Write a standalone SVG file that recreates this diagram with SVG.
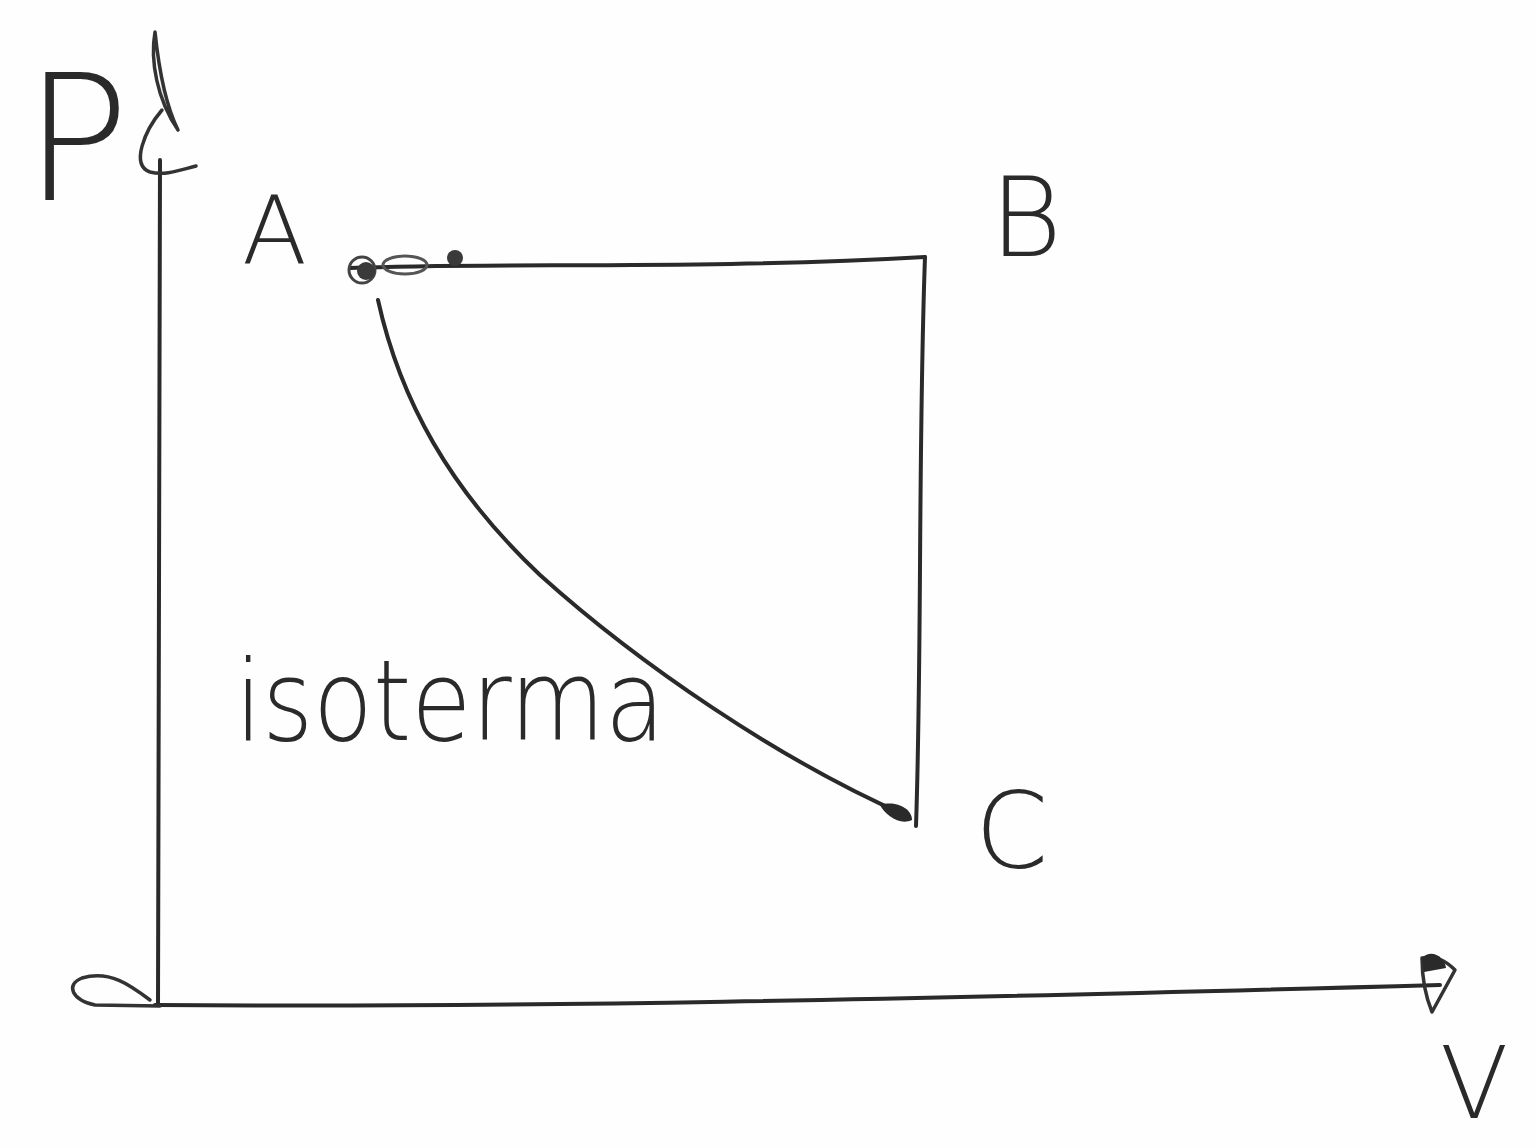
<svg xmlns="http://www.w3.org/2000/svg" width="1536" height="1148" viewBox="0 0 1536 1148">
<style>
.ink{fill:none;stroke:#2a2a2a;stroke-width:4;stroke-linecap:round;stroke-linejoin:round}
.thin{fill:none;stroke:#333;stroke-width:3.5;stroke-linecap:round;stroke-linejoin:round}
.lbl{font-family:"DejaVu Sans","Liberation Sans",sans-serif;fill:#2a2a2a;font-weight:200}
</style>
<rect width="1536" height="1148" fill="#fefefe"/>
<g id="axes">
<path class="ink" d="M158,1005 C160,800 157,500 160,160"/>
<path class="thin" d="M155,32 C150,60 157,100 178,130 C168,110 160,80 155,32 Z"/>
<path d="M158,60 C160,90 166,110 176,128 C166,112 160,90 158,60 Z" fill="#2a2a2a"/>
<path class="thin" d="M162,110 C145,130 130,165 150,172 C165,176 180,170 196,166"/>
<path class="ink" d="M155,1005 C500,1008 900,1000 1440,985"/>
<path class="thin" d="M150,1000 C130,985 110,970 82,978 C65,985 72,1000 95,1005 L160,1006"/>
<path class="thin" d="M1422,958 C1440,955 1450,965 1455,970 L1432,1012 C1425,995 1422,975 1422,958 Z"/>
<path d="M1422,958 C1432,948 1445,958 1446,968 L1424,972 Z" fill="#2a2a2a"/>
</g>
<g id="connectors">
<path class="ink" d="M350,268 C500,262 700,270 925,257"/>
<path class="ink" d="M925,257 C918,450 922,650 916,826"/>
<path class="ink" d="M378,300 C400,400 450,490 540,575 C640,665 780,760 905,815"/>
<path d="M880,805 C895,800 912,808 912,820 C900,826 885,815 880,805 Z" fill="#2a2a2a"/>
</g>
<g id="node-A">
<circle cx="362" cy="270" r="13" fill="none" stroke="#444" stroke-width="3"/>
<circle cx="366" cy="271" r="9" fill="#3a3a3a"/>
<ellipse cx="405" cy="265" rx="22" ry="9" fill="none" stroke="#555" stroke-width="3"/>
<circle cx="455" cy="258" r="8" fill="#3a3a3a"/>
<text class="lbl" x="242" y="264" font-size="95">A</text>
</g>
<g id="node-B">
<text class="lbl" x="990" y="256" font-size="110">B</text>
</g>
<g id="node-C">
<text class="lbl" x="975" y="868" font-size="105">C</text>
</g>
<g id="labels">
<text class="lbl" x="24" y="200" font-size="175">P</text>
<text class="lbl" x="1440" y="1118" font-size="100">V</text>
<text class="lbl" x="235" y="740" font-size="112" textLength="430" lengthAdjust="spacingAndGlyphs">isoterma</text>
</g>
</svg>
